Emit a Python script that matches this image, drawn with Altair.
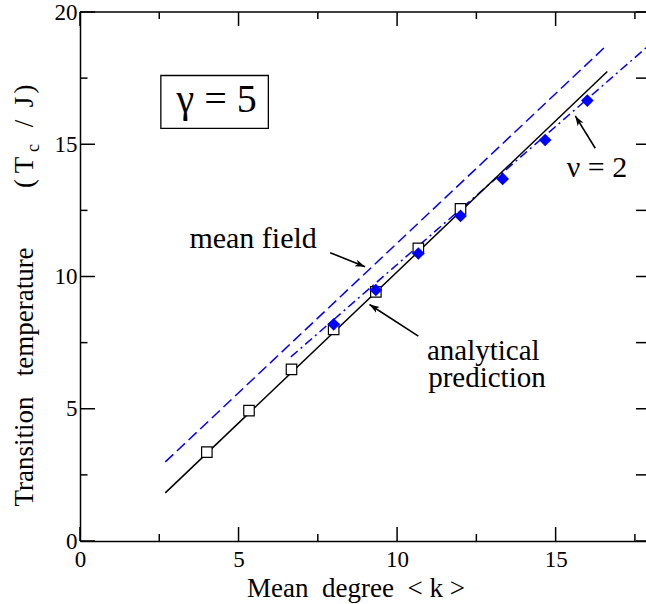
import altair as alt
import pandas as pd

# ---------------- data ----------------
sim_k = [4.0, 5.33, 6.67, 8.0, 9.33, 10.67, 12.0]
sim_tc = [3.36, 4.93, 6.49, 8.0, 9.42, 11.06, 12.56]

nu2_k = [8.0, 9.33, 10.67, 12.0, 13.33, 14.67, 16.0]
nu2_tc = [8.19, 9.49, 10.87, 12.29, 13.69, 15.16, 16.65]

analytic_k = [2.69, 16.63]
analytic_tc = [1.82, 17.75]

meanfield_k = [2.69, 16.63]
meanfield_tc = [2.99, 18.76]

nu2fit_k = [6.65, 18.0]
nu2fit_tc = [6.96, 18.8]

x_major = [0, 5, 10, 15]
x_minor = [2.5, 7.5, 12.5, 17.5]
y_major = [0, 5, 10, 15, 20]
y_minor = [2.5, 7.5, 12.5, 17.5]

# annotations (data coordinates)
note_text = ["mean field", "analytical", "prediction", "\u03bd = 2"]
note_k = [3.45, 10.94, 10.98, 15.35]
note_tc = [11.06, 6.86, 5.83, 13.76]
note_size = [30, 29, 29, 30]

arrow_tail_k = [7.89, 10.67, 16.25]
arrow_tail_tc = [10.90, 7.745, 14.85]
arrow_head_k = [8.99, 9.13, 15.62]
arrow_head_tc = [10.37, 8.94, 16.07]
arrow_angle = [21.8, 212.9, 238.2]

gamma_box_k = [2.55, 5.94]
gamma_box_tc = [15.6, 17.6]
gamma_label = "\u03b3 = 5"
gamma_k = 4.31
gamma_tc = 16.23

NB = "\u00a0"
x_title = "Mean" + NB * 2 + "degree" + NB * 2 + "<" + NB + "k" + NB + ">"
y_title_parts = ["Transition" + NB * 3 + "temperature", "(", "T", "c", "/", "J", ")"]

FONT = "Liberation Serif"
W, H = 566, 529
XMAX = 17.85

xs = alt.Scale(domain=[0, XMAX], nice=False, zero=False)
ys = alt.Scale(domain=[0, 20], nice=False, zero=False)

sim = pd.DataFrame({"k": sim_k, "tc": sim_tc})
nu2 = pd.DataFrame({"k": nu2_k, "tc": nu2_tc})
ana = pd.DataFrame({"k": analytic_k, "tc": analytic_tc})
mf = pd.DataFrame({"k": meanfield_k, "tc": meanfield_tc})
nfit = pd.DataFrame({"k": nu2fit_k, "tc": nu2fit_tc})

base_axes = alt.Chart(sim).mark_point(opacity=0).encode(
    x=alt.X("k:Q", scale=xs, title=None,
            axis=alt.Axis(values=x_major, ticks=False, grid=False, domainColor="black",
                          domainWidth=1.5, labelFont=FONT, labelFontSize=23, labelColor="black",
                          labelPadding=7, labelFlush=False, labelOverlap=False, format="d")),
    y=alt.Y("tc:Q", scale=ys, title=None,
            axis=alt.Axis(values=y_major, ticks=False, grid=False, domainColor="black",
                          domainWidth=1.5, labelFont=FONT, labelFontSize=23, labelColor="black",
                          labelPadding=3, labelFlush=False, labelOverlap=False, format="d")),
)

meanfield_line = alt.Chart(mf).mark_line(color="#0000ff", strokeWidth=1.5, strokeDash=[11, 5], clip=True).encode(
    x=alt.X("k:Q", scale=xs), y=alt.Y("tc:Q", scale=ys))
nu2_line = alt.Chart(nfit).mark_line(color="#0000ff", strokeWidth=1.5, strokeDash=[9, 4, 2, 4], clip=True).encode(
    x=alt.X("k:Q", scale=xs), y=alt.Y("tc:Q", scale=ys))
ana_line = alt.Chart(ana).mark_line(color="black", strokeWidth=1.5, clip=True).encode(
    x=alt.X("k:Q", scale=xs), y=alt.Y("tc:Q", scale=ys))

squares = alt.Chart(sim).mark_point(shape="square", size=110, filled=True, fill="white",
                                    stroke="black", strokeWidth=1.2, opacity=1).encode(
    x=alt.X("k:Q", scale=xs), y=alt.Y("tc:Q", scale=ys))
diamonds = alt.Chart(nu2).mark_point(shape="diamond", size=160, filled=True, color="#0000ff", opacity=1).encode(
    x=alt.X("k:Q", scale=xs), y=alt.Y("tc:Q", scale=ys))

# ticks (inward)
def xticks(vals, y0, y1):
    return alt.Chart(pd.DataFrame({"v": vals})).mark_rule(color="black", strokeWidth=1.5).encode(
        x=alt.X("v:Q", scale=xs), y=alt.value(y0), y2=alt.value(y1))

def yticks(vals, x0, x1):
    return alt.Chart(pd.DataFrame({"v": vals})).mark_rule(color="black", strokeWidth=1.5).encode(
        y=alt.Y("v:Q", scale=ys), x=alt.value(x0), x2=alt.value(x1))

ticks = [
    xticks(x_major, H, H - 14), xticks(x_minor, H, H - 7),
    xticks(x_major, 0, 14), xticks(x_minor, 0, 7),
    yticks(y_major, 0, 15), yticks(y_minor, 0, 7.5),
    yticks(y_major, W - 10, W), yticks(y_minor, W - 10, W),
]

top_spine = alt.Chart(pd.DataFrame({"a": [0]})).mark_rule(color="black", strokeWidth=1.5).encode(
    x=alt.value(0), x2=alt.value(W), y=alt.value(0))

# annotations
notes = alt.Chart(pd.DataFrame({"t": note_text, "k": note_k, "tc": note_tc, "s": note_size})).mark_text(
    font=FONT, align="left", baseline="alphabetic", color="black").encode(
    x=alt.X("k:Q", scale=xs), y=alt.Y("tc:Q", scale=ys), text="t:N",
    size=alt.Size("s:Q", scale=None, legend=None))

arrows_df = pd.DataFrame({"k": arrow_tail_k, "tc": arrow_tail_tc, "k2": arrow_head_k,
                          "tc2": arrow_head_tc, "ang": arrow_angle})
arrow_lines = alt.Chart(arrows_df).mark_rule(color="black", strokeWidth=1.6).encode(
    x=alt.X("k:Q", scale=xs), y=alt.Y("tc:Q", scale=ys), x2="k2:Q", y2="tc2:Q")
arrow_heads = alt.Chart(arrows_df).mark_point(
    shape="M0,0L-1,-0.34L-0.75,0L-1,0.34Z", size=400, filled=True, color="black", opacity=1).encode(
    x=alt.X("k2:Q", scale=xs), y=alt.Y("tc2:Q", scale=ys), angle=alt.Angle("ang:Q", scale=None))

box = alt.Chart(pd.DataFrame({"k": [gamma_box_k[0]], "k2": [gamma_box_k[1]],
                              "tc": [gamma_box_tc[0]], "tc2": [gamma_box_tc[1]]})).mark_rect(
    fill="white", stroke="black", strokeWidth=1.3).encode(
    x=alt.X("k:Q", scale=xs), x2="k2:Q", y=alt.Y("tc:Q", scale=ys), y2="tc2:Q")
gamma = alt.Chart(pd.DataFrame({"t": [gamma_label], "k": [gamma_k], "tc": [gamma_tc]})).mark_text(
    font=FONT, fontSize=40, align="center", baseline="alphabetic", color="black").encode(
    x=alt.X("k:Q", scale=xs), y=alt.Y("tc:Q", scale=ys), text="t:N")

# axis titles
xtitle = alt.Chart(pd.DataFrame({"t": [x_title]})).mark_text(
    font=FONT, fontSize=27, align="center", baseline="alphabetic", color="black").encode(
    text="t:N", x=alt.value(276), y=alt.value(585))

# rotated y title, piece by piece (centre positions along the axis, in plot pixels)
yt_centre = [365, 171.5, 153, 136, 111.5, 90, 77]
yt_size = [27, 27, 27, 18, 27, 27, 27]
yt_x = [-47, -47, -47, -41, -47, -47, -47]
ytitle = alt.Chart(pd.DataFrame({"t": y_title_parts, "yy": yt_centre, "s": yt_size, "xx": yt_x})).mark_text(
    font=FONT, align="center", baseline="alphabetic", angle=270, color="black").encode(
    text="t:N",
    x=alt.X("xx:Q", scale=None),
    y=alt.Y("yy:Q", scale=None),
    size=alt.Size("s:Q", scale=None, legend=None))

chart = alt.layer(
    base_axes, meanfield_line, nu2_line, ana_line, squares, diamonds,
    *ticks, top_spine, arrow_lines, arrow_heads, notes, box, gamma,
    xtitle, ytitle,
).properties(
    width=W, height=H,
    autosize=alt.AutoSizeParams(type="none"),
    padding={"left": 80, "top": 12, "right": 0, "bottom": 63},
    background="white",
).configure_view(stroke=None)

chart.save("out.html", embed_options={"renderer": "svg", "actions": False})
